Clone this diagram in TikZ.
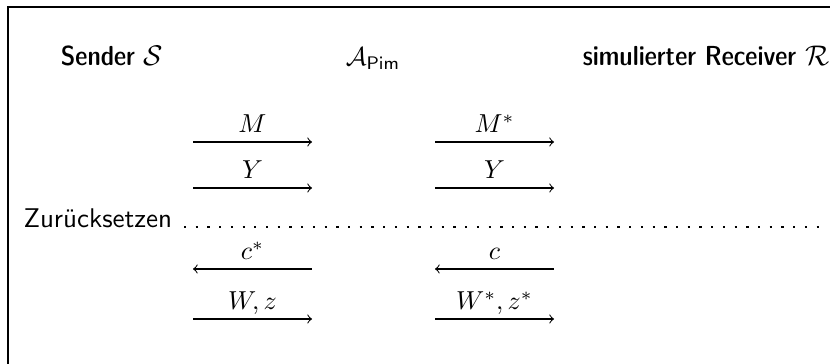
\documentclass[tikz,border=0pt]{standalone}
\usepackage{amsmath}
\tikzset{
  msg/.style={line width=0.4pt,->},
  rmsg/.style={line width=0.4pt,<-},
  lbl/.style={midway, anchor=base, yshift=3.5pt, inner sep=0pt},
  head/.style={anchor=base, inner sep=0pt, font=\sffamily\fontsize{10.6}{12}\fontseries{sbc}\selectfont},
}
\begin{document}
\begin{tikzpicture}[x=0.385pt,y=-0.385pt]
\useasboundingbox (0,0) rectangle (830,364);
\draw[line width=0.5pt] (8,364) -- (8,7) -- (830,7);
\node[head] (snd) at (112,66) {Sender $\mathcal{S}$};
\node[anchor=base, inner sep=0pt] (apim) at (373,66) {$\mathcal{A}_{\mathsf{Pim}}$};
\node[head] (rcv) at (706,66) {simulierter Receiver $\mathcal{R}$};
% left column
\coordinate (l1a) at (193,142); \coordinate (l1b) at (312,142);
\coordinate (l2a) at (193,188); \coordinate (l2b) at (312,188);
\coordinate (l3a) at (193,269); \coordinate (l3b) at (312,269);
\coordinate (l4a) at (193,319); \coordinate (l4b) at (312,319);
% right column
\coordinate (r1a) at (435,142); \coordinate (r1b) at (554,142);
\coordinate (r2a) at (435,188); \coordinate (r2b) at (554,188);
\coordinate (r3a) at (435,269); \coordinate (r3b) at (554,269);
\coordinate (r4a) at (435,319); \coordinate (r4b) at (554,319);
\draw[msg] (l1a) -- node[lbl]{$M$} (l1b);
\draw[msg] (l2a) -- node[lbl]{$Y$} (l2b);
\draw[rmsg] (l3a) -- node[lbl]{$c^*$} (l3b);
\draw[msg] (l4a) -- node[lbl]{$W, z$} (l4b);
\draw[msg] (r1a) -- node[lbl]{$M^*$} (r1b);
\draw[msg] (r2a) -- node[lbl]{$Y$} (r2b);
\draw[rmsg] (r3a) -- node[lbl]{$c$} (r3b);
\draw[msg] (r4a) -- node[lbl]{$W^*, z^*$} (r4b);
\node[anchor=base west, inner sep=0pt, font=\sffamily\fontsize{10.4}{12}\selectfont] (zur) at (23,228) {Zurücksetzen};
\coordinate (d0) at (184,227);
\coordinate (d1) at (821,227);
\draw[line width=0.85pt, dash pattern=on 0.85pt off 3.66pt] (d0) -- (d1);
\end{tikzpicture}
\end{document}
